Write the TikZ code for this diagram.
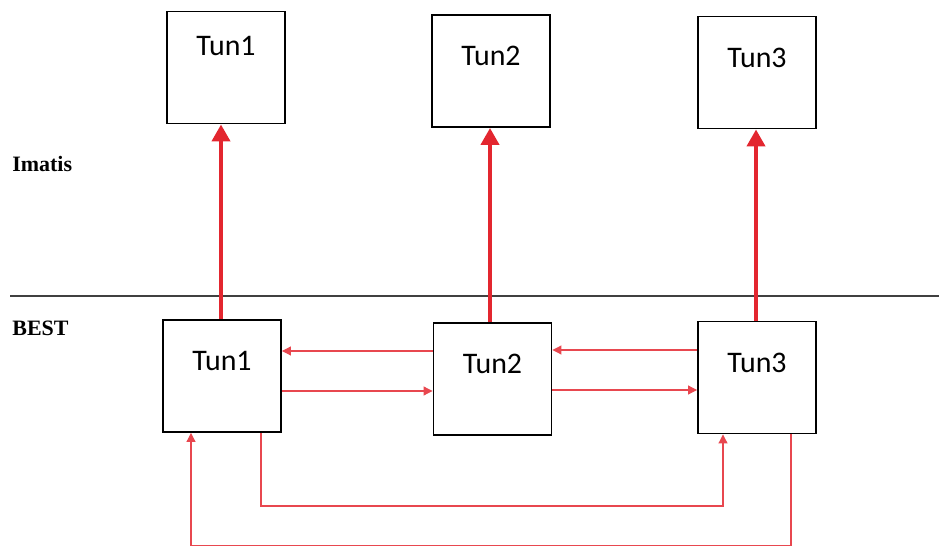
\documentclass[tikz,border=0pt]{standalone}
\usepackage{fontspec}
\setmainfont{Liberation Serif}
\newfontfamily\boxfont{Carlito}
\usetikzlibrary{arrows.meta,positioning}
\definecolor{lnk}{HTML}{E3262F}
\definecolor{lnkthin}{HTML}{E8474F}

\begin{document}
\begin{tikzpicture}[
    x=0.02cm,y=-0.02cm,
    tun/.style={rectangle,draw,line width=1.1pt,minimum width=2.36cm,minimum height=2.24cm,inner xsep=0pt,inner ysep=0pt,text height=1.02cm,text depth=1.22cm,font=\boxfont\fontsize{17}{20}\selectfont},
    lay/.style={anchor=base west,inner sep=0pt,font=\bfseries\fontsize{12.5}{14}\selectfont},
    up/.style={-{Triangle[length=3.4mm,width=3.6mm]},lnk,line width=2.3pt},
    tarr/.style={-{Triangle[length=1.8mm,width=1.8mm]},lnkthin,line width=0.6pt}
]
\useasboundingbox (0,0) rectangle (939,546);

% layers
\draw[line width=0.6pt,black!75] (10,296) -- (939,296);
\node[lay] (imatis) at (12,172) {Imatis};
\node[lay] (best) at (12,336) {BEST};

% Imatis side
\node[tun,text height=0.88cm,text depth=1.36cm] (t1) at (226,67.5) {Tun1};
\node[tun] (t2) at (491,71) {Tun2};
\node[tun] (t3) at (757,72.5) {Tun3};

% BEST side
\node[tun] (b1) at (222,376) {Tun1};
\node[tun] (b2) at (492.5,379) {Tun2};
\node[tun] (b3) at (757,377.5) {Tun3};

\draw[up] (b1.north -| 221,0) -- (t1.south -| 221,0);
\draw[up] (b2.north -| 490,0) -- (t2.south -| 490,0);
\draw[up] (b3.north -| 756,0) -- (t3.south -| 756,0);

\draw[tarr] (b2.west |- 0,351) -- (b1.east |- 0,351);
\draw[tarr] (b1.east |- 0,391) -- (b2.west |- 0,391);
\draw[tarr] (b3.west |- 0,350) -- (b2.east |- 0,350);
\draw[tarr] (b2.east |- 0,390) -- (b3.west |- 0,390);

\draw[tarr] (b1.south -| 261,0) -- (261,506) -- (723,506) -- (b3.south -| 723,0);
\draw[tarr] (b3.south -| 791,0) -- (791,546) -- (191,546) -- (b1.south -| 191,0);
\end{tikzpicture}
\end{document}
